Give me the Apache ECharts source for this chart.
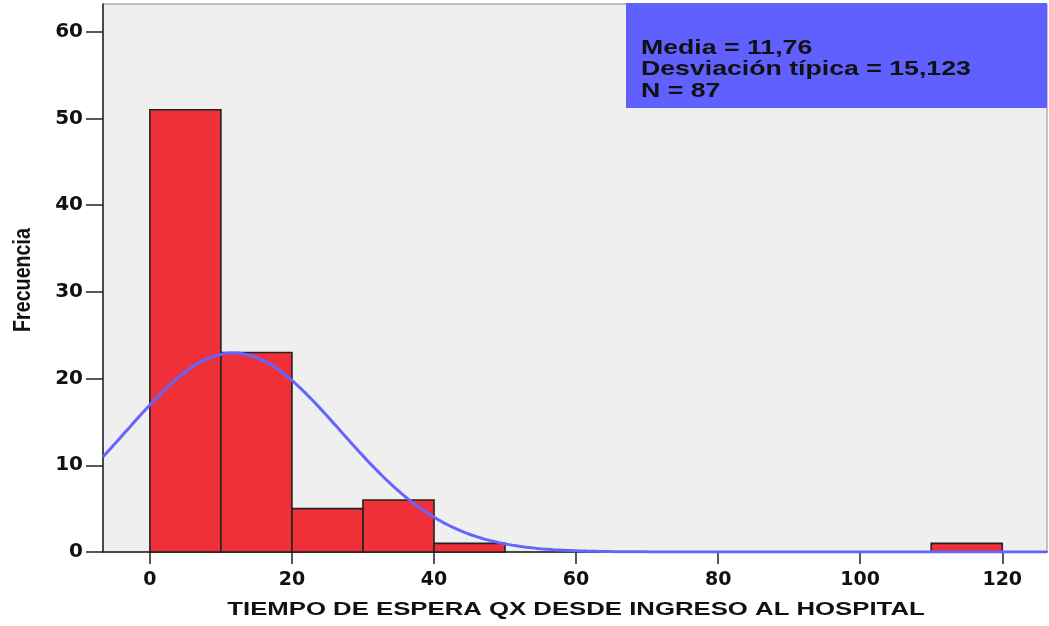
<!DOCTYPE html>
<html>
<head>
<meta charset="utf-8">
<script src="https://cdn.jsdelivr.net/npm/echarts@6/dist/echarts.min.js"></script>
<style>
  html, body { margin: 0; padding: 0; background: #ffffff; }
  #chart { width: 1049px; height: 626px; }
</style>
</head>
<body>
<div id="chart"></div>
<script>
// Histogram bins (lower edge, upper edge) and their frequencies
const binStarts = [0, 10, 20, 30, 40, 110];
const binEnds = [10, 20, 30, 40, 50, 120];
const frequencies = [51, 23, 5, 6, 1, 1];

// Summary statistics shown in the legend box
const media = 11.76;
const desviacion = 15.123;
const n = 87;
const binWidth = 10;

const xTicks = [0, 20, 40, 60, 80, 100, 120];
const yTicks = [0, 10, 20, 30, 40, 50, 60];

const xTitle = 'TIEMPO DE ESPERA QX DESDE INGRESO AL HOSPITAL';
const yTitle = 'Frecuencia';

// Fitted normal curve scaled to the histogram counts
const curve = [];
for (let x = -6.6; x <= 126.4; x += 0.4) {
  const z = (x - media) / desviacion;
  const y = n * binWidth / (desviacion * Math.sqrt(2 * Math.PI)) * Math.exp(-0.5 * z * z);
  curve.push([x, y]);
}

const bars = binStarts.map((s, i) => [s, binEnds[i], frequencies[i]]);

const chart = echarts.init(document.getElementById('chart'), null, { renderer: 'canvas' });
const font = 'Liberation Sans, Arial, sans-serif';
const tickFont = 'DejaVu Sans, sans-serif';

chart.setOption({
  animation: false,
  grid: {
    left: 103, right: 2, top: 4, bottom: 74,
    outerBoundsMode: 'none',
    show: true, backgroundColor: '#efefef', borderColor: '#8a8a8a', borderWidth: 1
  },
  xAxis: {
    type: 'value', min: -6.6, max: 126.3, interval: 20,
    axisLine: { onZero: false, lineStyle: { color: '#222', width: 1.5 } },
    axisTick: { show: true, length: 12, lineStyle: { color: '#222', width: 1.5 },
      customValues: xTicks },
    axisLabel: { fontFamily: tickFont, fontWeight: 'bold', fontSize: 19, color: '#111', margin: 19,
      customValues: xTicks, formatter: v => String(v) },
    splitLine: { show: false }
  },
  yAxis: {
    type: 'value', min: 0, max: 63.2, interval: 10,
    axisLine: { show: true, onZero: false, lineStyle: { color: '#222', width: 1.5 } },
    axisTick: { show: true, length: 17, lineStyle: { color: '#222', width: 1.5 },
      customValues: yTicks },
    axisLabel: { fontFamily: tickFont, fontWeight: 'bold', fontSize: 20, color: '#111', margin: 20,
      customValues: yTicks, formatter: v => String(v) },
    splitLine: { show: false }
  },
  series: [
    {
      type: 'custom',
      data: bars,
      encode: { x: [0, 1], y: 2 },
      renderItem: function (params, api) {
        const p0 = api.coord([api.value(0), api.value(2)]);
        const p1 = api.coord([api.value(1), 0]);
        return {
          type: 'rect',
          shape: { x: p0[0], y: p0[1], width: p1[0] - p0[0], height: p1[1] - p0[1] },
          style: { fill: '#ef3038', stroke: '#222', lineWidth: 1.6 }
        };
      },
      z: 2
    },
    {
      type: 'line',
      data: curve,
      showSymbol: false,
      smooth: false,
      lineStyle: { color: '#6464ff', width: 3 },
      z: 3
    }
  ],
  graphic: [
    {
      type: 'rect', left: 626, top: 3,
      shape: { width: 421, height: 105 },
      style: { fill: '#6060ff' }, z: 10
    },
    {
      type: 'text', x: 641, y: 37, scaleX: 1.27,
      style: {
        text: 'Media = ' + media.toFixed(2).replace('.', ',') +
              '\nDesviación típica = ' + desviacion.toFixed(3).replace('.', ',') +
              '\nN = ' + n,
        font: 'bold 21px ' + font, fill: '#111', lineHeight: 21.5
      }, z: 11
    },
    {
      type: 'text', x: 576, y: 610, scaleX: 1.43,
      style: {
        text: xTitle, font: 'bold 18px ' + font, fill: '#111',
        align: 'center', verticalAlign: 'middle'
      }
    },
    {
      type: 'text', x: 23, y: 280, rotation: Math.PI / 2, scaleX: 0.82,
      style: {
        text: yTitle, font: 'bold 24px ' + font, fill: '#111',
        align: 'center', verticalAlign: 'middle'
      }
    }
  ]
});
</script>
</body>
</html>
